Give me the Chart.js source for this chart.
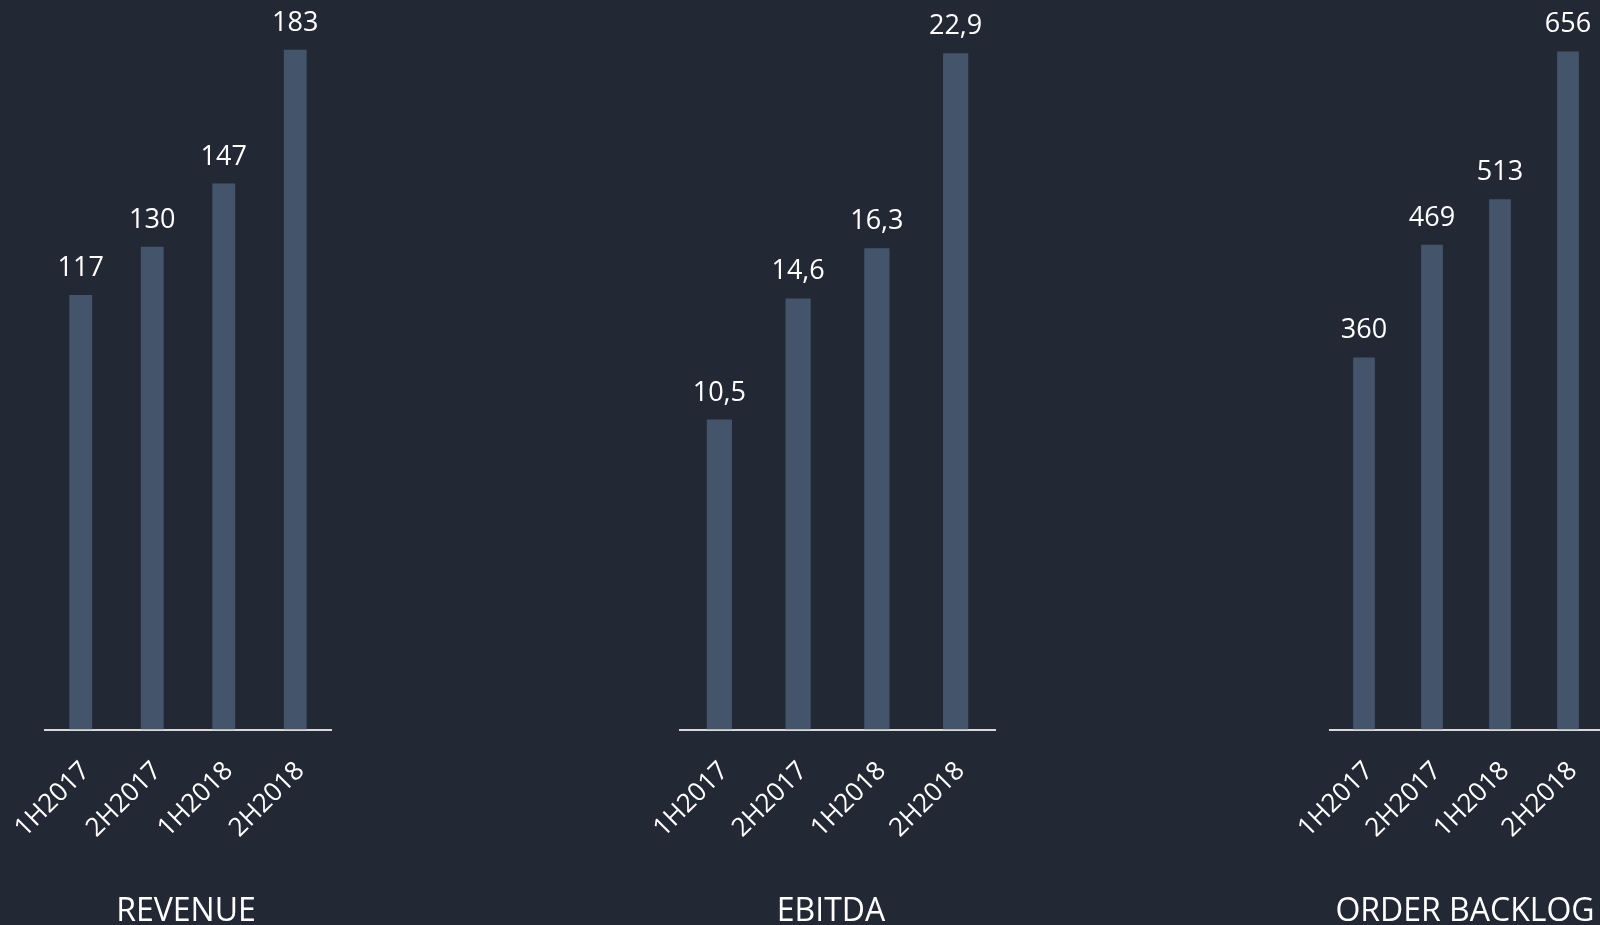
<!DOCTYPE html>
<html>
<head>
<meta charset="utf-8">
<script src="https://cdn.jsdelivr.net/npm/chart.js@4/dist/chart.umd.min.js"></script>
<style>
  html, body { margin: 0; padding: 0; background: #222834; width: 1600px; height: 925px; overflow: hidden; position: relative; }
  .wrap { position: absolute; top: 0; height: 925px; }
</style>
</head>
<body>
<div class="wrap" style="left:-39px;width:430px;"><canvas id="c1"></canvas></div>
<div class="wrap" style="left:587px;width:468px;"><canvas id="c2"></canvas></div>
<div class="wrap" style="left:1248px;width:414px;"><canvas id="c3"></canvas></div>
<script>
const categories = ['1H2017', '2H2017', '1H2018', '2H2018'];
const revenueValues = [117, 130, 147, 183];
const ebitdaValues = [10.5, 14.6, 16.3, 22.9];
const backlogValues = [360, 469, 513, 656];
const titles = ['REVENUE', 'EBITDA', 'ORDER BACKLOG'];

const BAR = '#44546A';
const AXIS = '#D9D9D9';
const TEXT = '#FFFFFF';
const FONT = "'Open Sans', 'Noto Sans', sans-serif";

const valueLabels = {
  id: 'valueLabels',
  afterDatasetsDraw(chart, args, opts) {
    const ctx = chart.ctx;
    ctx.save();
    ctx.fillStyle = TEXT;
    ctx.font = '400 27px ' + FONT;
    ctx.textAlign = 'center';
    ctx.textBaseline = 'alphabetic';
    const meta = chart.getDatasetMeta(0);
    const data = chart.data.datasets[0].data;
    meta.data.forEach((bar, i) => {
      ctx.fillText(opts.format(data[i]), bar.x, bar.y - 19);
    });
    ctx.restore();
  }
};

function makeChart(id, values, title, yMax, yW, padR, fmt) {
  return new Chart(document.getElementById(id), {
    type: 'bar',
    data: {
      labels: categories,
      datasets: [{
        data: values,
        backgroundColor: BAR,
        borderWidth: 0,
        categoryPercentage: 1,
        barPercentage: 0.32
      }]
    },
    options: {
      responsive: true,
      maintainAspectRatio: false,
      animation: false,
      layout: { padding: { left: 80, right: padR, top: 9, bottom: 0 } },
      scales: {
        x: {
          grid: { display: false, drawTicks: false },
          border: { display: true, color: AXIS, width: 2 },
          ticks: {
            color: TEXT,
            font: { family: FONT, size: 26, weight: '400' },
            minRotation: 45,
            maxRotation: 45,
            padding: 26,
            labelOffset: 5,
            autoSkip: false
          }
        },
        y: {
          display: true,
          min: 0,
          max: yMax,
          grid: { display: false, drawTicks: false },
          border: { display: false },
          ticks: { display: false },
          afterFit(scale) { scale.width = yW; }
        }
      },
      plugins: {
        legend: { display: false },
        tooltip: { enabled: false },
        title: {
          display: true,
          text: title,
          position: 'bottom',
          color: TEXT,
          font: { family: FONT, size: 32, weight: '400', lineHeight: 0.85 },
          padding: { top: 28, bottom: 0 }
        },
        valueLabels: { format: fmt }
      }
    },
    plugins: [valueLabels]
  });
}

const intFmt = v => String(v);
const decFmt = v => v.toFixed(1).replace('.', ',');

makeChart('c1', revenueValues, titles[0], 194, 4, 60, intFmt);
makeChart('c2', ebitdaValues, titles[1], 24.4, 13, 60, decFmt);
makeChart('c3', backlogValues, titles[2], 697, 2, 60, intFmt);
</script>
</body>
</html>
